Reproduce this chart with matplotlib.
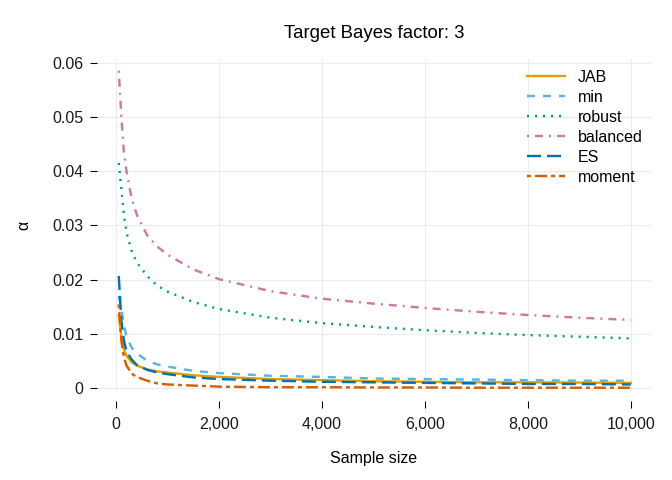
import matplotlib
matplotlib.use('Agg')
import matplotlib.pyplot as plt

sample_size = [50, 100, 150, 200, 300, 400, 600, 800, 1000, 1500, 2000,
               3000, 4000, 5000, 6000, 7000, 8000, 9000, 10000]

alpha_jab = [0.0135, 0.0095, 0.0072, 0.0060, 0.0048, 0.0042, 0.0035, 0.0031, 0.0029, 0.0024, 0.0021,
             0.0017, 0.0015, 0.0013, 0.0012, 0.0011, 0.0011, 0.00105, 0.0010]
alpha_min = [0.0170, 0.0145, 0.0117, 0.0095, 0.0075, 0.0064, 0.0051, 0.0044, 0.0040, 0.0032, 0.0028,
             0.0023, 0.0021, 0.0018, 0.0017, 0.0016, 0.0015, 0.0014, 0.0014]
alpha_robust = [0.0415, 0.0368, 0.0320, 0.0287, 0.0253, 0.0232, 0.0207, 0.0189, 0.0178, 0.0159, 0.0146,
                0.0130, 0.0120, 0.0113, 0.0107, 0.0102, 0.0098, 0.0095, 0.0092]
alpha_balanced = [0.0585, 0.0500, 0.0435, 0.0400, 0.0350, 0.0320, 0.0282, 0.0261, 0.0246, 0.0219, 0.0201,
                  0.0179, 0.0165, 0.0156, 0.0148, 0.0141, 0.0135, 0.0130, 0.0126]
alpha_es = [0.0207, 0.0125, 0.0088, 0.0068, 0.0053, 0.0043, 0.0034, 0.0029, 0.0026, 0.0020, 0.0017,
            0.0014, 0.0012, 0.0011, 0.0010, 0.0009, 0.0008, 0.0008, 0.0007]
alpha_moment = [0.0155, 0.0088, 0.0057, 0.0042, 0.0027, 0.0021, 0.0014, 0.0009, 0.0007, 0.0005, 0.0003,
                0.0002, 0.0002, 0.00015, 0.00015, 0.0001, 0.0001, 0.0001, 0.0001]

labels = ['JAB', 'min', 'robust', 'balanced', 'ES', 'moment']
colors = ['#E69F00', '#56B4E9', '#009E73', '#CC79A7', '#0072B2', '#D55E00']
# ggplot style linetypes: solid, dashed, dotted, dotdash, longdash, twodash
dashes = [None, (4, 4), (1, 3), (1, 3, 4, 3), (7, 3), (2, 2, 6, 2)]
series = [alpha_jab, alpha_min, alpha_robust, alpha_balanced, alpha_es, alpha_moment]

lw = 1.8
dash_scale = 1.5 / lw  # keep dash lengths as they were at lw 1.5

plt.rcParams['font.family'] = ['Liberation Sans', 'DejaVu Sans']

fig = plt.figure(figsize=(7, 5), dpi=96)
ax = fig.add_axes([97 / 672, 1 - 391 / 480, (651 - 97) / 672, (391 - 59) / 480])

for vals, lab, col, dsh in zip(series, labels, colors, dashes):
    line, = ax.plot(sample_size, vals, color=col, linewidth=lw, label=lab)
    if dsh is not None:
        line.set_dashes([d * dash_scale for d in dsh])

ax.set_xlim(-373, 10394)
ax.set_ylim(-0.0005, 0.06067)
ax.set_xticks([0, 2000, 4000, 6000, 8000, 10000])
ax.set_xticklabels(['0', '2,000', '4,000', '6,000', '8,000', '10,000'])
ax.set_yticks([0, 0.01, 0.02, 0.03, 0.04, 0.05, 0.06])
ax.set_yticklabels(['0', '0.01', '0.02', '0.03', '0.04', '0.05', '0.06'])

ax.grid(True, color='#EBEBEB', linewidth=0.8)
ax.set_axisbelow(True)
for sp in ax.spines.values():
    sp.set_visible(False)
ax.spines['bottom'].set_position(('outward', 7.3))

ax.tick_params(axis='x', length=5.2, width=0.8, color='black', pad=7, labelsize=12, labelcolor='#1A1A1A')
ax.tick_params(axis='y', length=5, width=0.8, color='black', pad=5, labelsize=12, labelcolor='#1A1A1A')

ax.set_xlabel('Sample size', fontsize=12, labelpad=14)
ax.set_ylabel('α', fontsize=12, labelpad=16)
ax.set_title('Target Bayes factor: 3', fontsize=14, pad=16)

ax.legend(loc='upper left', bbox_to_anchor=(527 / 672, 1 - 70 / 480), bbox_transform=fig.transFigure,
          frameon=False, fontsize=12, handlelength=2.4, handletextpad=0.8, labelspacing=0.31,
          borderpad=0, borderaxespad=0)

fig.savefig('out.png', dpi=96)
